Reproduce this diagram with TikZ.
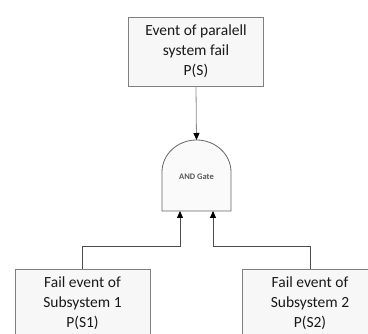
\documentclass[tikz,border=0pt]{standalone}
\usepackage{fontspec}
\setmainfont{Carlito}
\usetikzlibrary{arrows.meta}
\tikzset{evbox/.style={draw=black!50,fill=black!3,text=black!90,align=center,minimum width=135pt,inner sep=0pt,font=\fontsize{15.5}{20}\selectfont}}
\tikzset{wire/.style={draw=black!70,line width=0.8pt}}
\tikzset{gatetip/.style={-{Triangle[width=6pt,length=7pt,color=black]}}}

\begin{document}
\begin{tikzpicture}[x=1pt,y=-1pt]
  \useasboundingbox (0,0) rectangle (368,334);
  \clip (0,0) rectangle (368,334);
  % top event
  \node[evbox,minimum height=69pt] (top) at (196,51.5) {Event of paralell\\system fail\\P(S)};
  % and gate
  \draw[draw=black!60,fill=black!2,line width=0.8pt] (162,211) -- (162,172)
    arc[start angle=180,end angle=0,x radius=34.5pt,y radius=32pt] -- (231,211) -- cycle;
  \node[font=\bfseries\fontsize{8.5}{9}\selectfont,text=black!65] (gate) at (196.5,177) {AND Gate};
  \coordinate (gin) at (196.5,140);
  \coordinate (ga) at (180,211);
  \coordinate (gb) at (213,211);
  % basic events
  \node[evbox,minimum height=68pt,anchor=north] (s1) at (82.5,269) {Fail event of\\Subsystem 1\\P(S1)};
  \node[evbox,minimum height=68pt,anchor=north] (s2) at (310,269) {Fail event of\\Subsystem 2\\P(S2)};
  % connectors
  \draw[wire,draw=black!45,gatetip] (top.south) -- (gin);
  \draw[wire,gatetip] (s1.north) -- ++(0,-23) -| (ga);
  \draw[wire,gatetip] (s2.north) -- ++(0,-23) -| (gb);
\end{tikzpicture}
\end{document}
